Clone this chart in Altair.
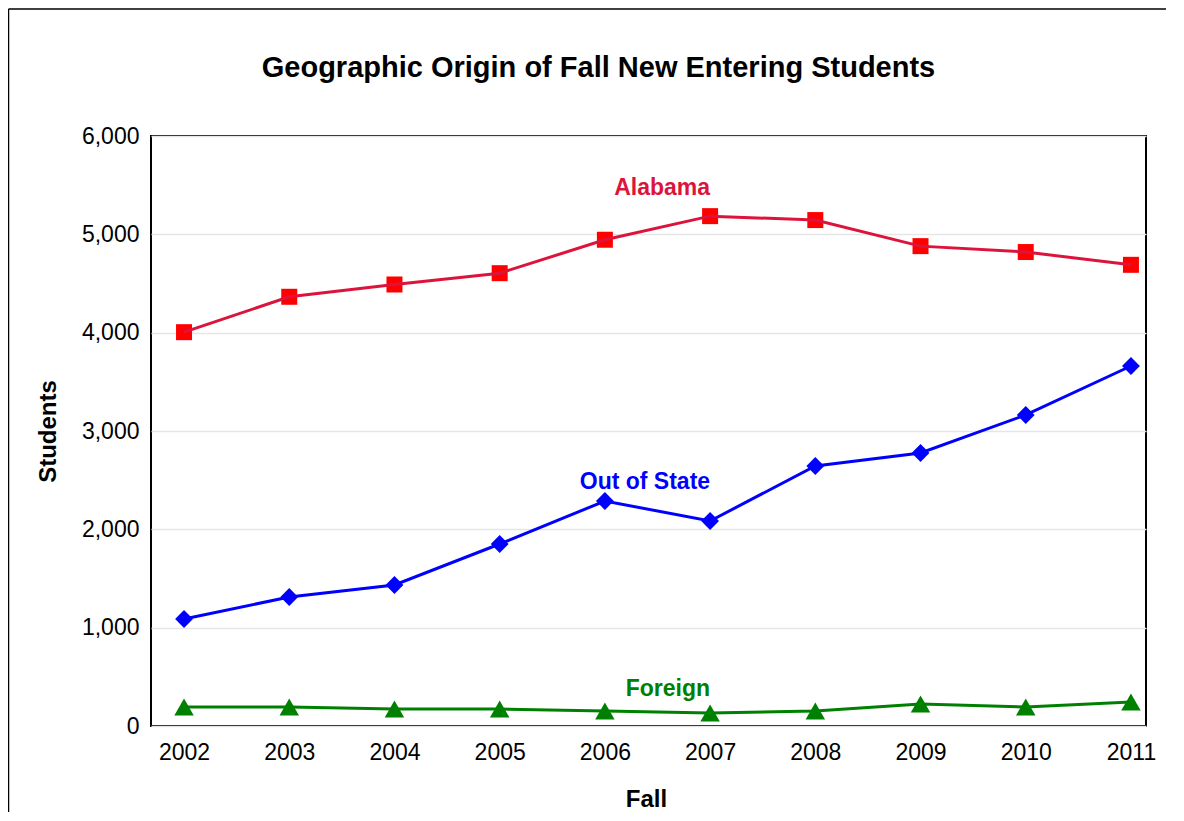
import altair as alt
import pandas as pd

years = [2002, 2003, 2004, 2005, 2006, 2007, 2008, 2009, 2010, 2011]
alabama = [4005, 4365, 4490, 4605, 4945, 5185, 5145, 4880, 4820, 4690]
out_of_state = [1088, 1312, 1434, 1851, 2288, 2085, 2644, 2776, 3163, 3661]
foreign = [193, 193, 173, 173, 153, 132, 153, 224, 193, 244]

series_names = ["Alabama", "Out of State", "Foreign"]
line_colors = ["#dc143c", "#0000ff", "#008000"]
marker_colors = ["#ff0000", "#0000ff", "#008000"]
marker_shapes = ["square", "diamond", "triangle-up"]

label_texts = ["Alabama", "Out of State", "Foreign"]
label_years = [2007, 2007, 2007]
label_values = [5400, 2410, 308]

y_ticks = [0, 1000, 2000, 3000, 4000, 5000, 6000]
title_text = "Geographic Origin of Fall New Entering Students"

rows = []
for name, vals in zip(series_names, [alabama, out_of_state, foreign]):
    for yr, v in zip(years, vals):
        rows.append({"Fall": yr, "Series": name, "Students": v})
df = pd.DataFrame(rows)

labels_df = pd.DataFrame({"text": label_texts, "Fall": label_years,
                          "Students": label_values, "Series": series_names})

FONT = "Liberation Sans"
W, H = 995, 590

x_enc = alt.X("Fall:Q", scale=alt.Scale(domain=[2001.686, 2011.143], nice=False, zero=False),
              axis=alt.Axis(values=years, format="d", title="Fall", grid=False, ticks=False,
                            domain=False, labelPadding=15, labelFontSize=23,
                            titleFontSize=24, titleFontWeight="bold",
                            titleX=495, titleY=80, titleBaseline="alphabetic",
                            titleAlign="center"))
y_enc = alt.Y("Students:Q", scale=alt.Scale(domain=[0, 6000], nice=False),
              axis=alt.Axis(values=y_ticks, format=",d", title="Students", grid=True,
                            ticks=False, domain=False, labelPadding=12, labelFontSize=23,
                            titleFontSize=24, titleFontWeight="bold", titleAngle=270,
                            titleX=-96, titleY=295, titleBaseline="alphabetic",
                            titleAlign="center"))

base = alt.Chart(df)

points = base.mark_point(filled=True, opacity=1, strokeWidth=0).encode(
    x=x_enc, y=y_enc,
    fill=alt.Fill("Series:N", scale=alt.Scale(domain=series_names, range=marker_colors), legend=None),
    shape=alt.Shape("Series:N", scale=alt.Scale(domain=series_names, range=marker_shapes), legend=None),
    size=alt.Size("Series:N", scale=alt.Scale(domain=series_names, range=[256, 380, 420]), legend=None),
)

lines = base.mark_line(strokeWidth=3).encode(
    x=x_enc, y=y_enc,
    stroke=alt.Stroke("Series:N", scale=alt.Scale(domain=series_names, range=line_colors), legend=None),
    detail="Series:N",
)

labels = alt.Chart(labels_df).mark_text(
    align="right", baseline="alphabetic", font=FONT, fontSize=23, fontWeight="bold"
).encode(
    x=alt.X("Fall:Q"), y=alt.Y("Students:Q"), text="text:N",
    color=alt.Color("Series:N", scale=alt.Scale(domain=series_names, range=line_colors), legend=None),
)

one = pd.DataFrame({"t": [title_text]})
title = alt.Chart(one).mark_text(
    align="center", baseline="alphabetic", font=FONT, fontSize=29, fontWeight="bold", color="black"
).encode(text="t:N", x=alt.value(447.5), y=alt.value(-59))

frame_left = alt.Chart(one).mark_rule(stroke="black", strokeWidth=1.5).encode(
    x=alt.value(-142.5), y=alt.value(-127), y2=alt.value(H + 120)
)
frame_top = alt.Chart(one).mark_rule(stroke="black", strokeWidth=1.5).encode(
    y=alt.value(-127), x=alt.value(-142.5), x2=alt.value(W + 120)
)

chart = alt.layer(frame_left, frame_top, points, lines, labels, title).resolve_scale(
    color="independent"
).properties(
    width=W, height=H,
    autosize=alt.AutoSizeParams(type="none"),
    padding={"left": 143, "top": 128, "right": 20, "bottom": 86},
).configure_view(
    stroke="black", strokeWidth=2
).configure_axis(
    labelFont=FONT, titleFont=FONT, labelColor="black", titleColor="black",
    gridColor="#e6e6e6", gridWidth=1.5
)

chart.save("out.html", embed_options={"renderer": "svg", "actions": False})
